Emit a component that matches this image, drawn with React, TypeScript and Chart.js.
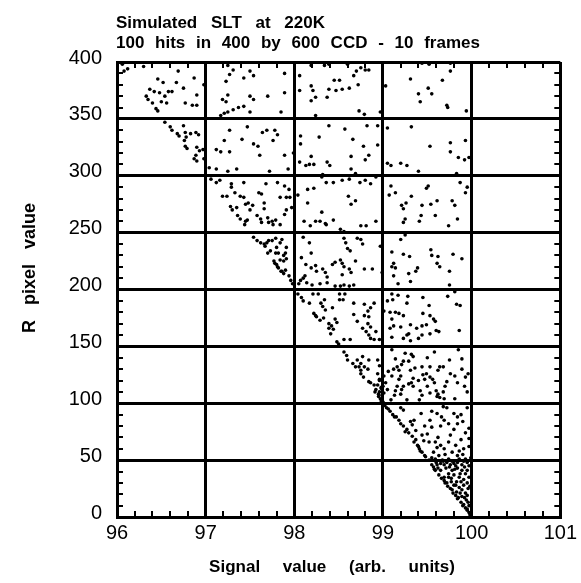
import React, { useEffect, useRef } from 'react';
import { Chart, registerables } from 'chart.js';

Chart.register(...registerables);

const TITLE_LINES = ['Simulated SLT at 220K', '100 hits in 400 by 600 CCD - 10 frames'];
const X_TITLE = 'Signal value (arb. units)';
const Y_TITLE = 'R pixel value';

const X_MIN = 96;
const X_MAX = 101;
const X_STEP = 1;
const X_MINOR = 0.2;
const Y_MIN = 0;
const Y_MAX = 400;
const Y_STEP = 50;
const Y_MINOR = 10;

// [signal value, R pixel value], band by band
const band350to400: [number, number][] = [
  [96.06, 398], [96.12, 394], [96.08, 392], [96.3, 396], [96.69, 392], [96.87, 386], [96.67, 382], [96.46, 385],
  [96.37, 376], [96.52, 382], [96.42, 374], [96.33, 370], [96.48, 373], [96.58, 374], [96.62, 374], [96.54, 370],
  [96.35, 367], [96.4, 364], [96.5, 365], [96.56, 364], [96.44, 359], [96.46, 357], [96.75, 377], [96.9, 371],
  [96.98, 380], [96.77, 364], [96.85, 362], [96.9, 362],
  [97.25, 397], [97.31, 393], [97.5, 392], [97.54, 388], [97.43, 386], [97.23, 383], [97.27, 389], [97.89, 390],
  [97.7, 370], [97.5, 370], [97.54, 367], [97.25, 371], [97.19, 367], [97.23, 365], [97.89, 373], [97.85, 356],
  [97.5, 356], [97.17, 353], [97.21, 355], [97.25, 356], [97.31, 358], [97.37, 360], [97.43, 361],
  [98.06, 388], [98.19, 379], [98.21, 375], [98.19, 366], [98.24, 369], [98.37, 369], [98.39, 376], [98.45, 384],
  [98.51, 384], [98.47, 375], [98.54, 376], [98.62, 377], [98.72, 380], [98.67, 388], [98.7, 392], [98.75, 395],
  [98.8, 393], [98.84, 393], [98.06, 375], [98.19, 397], [98.34, 397], [98.39, 398], [98.6, 398], [98.73, 357],
  [98.79, 354], [98.24, 353], [98.97, 356],
  [99.03, 379], [99.31, 385], [99.4, 372], [99.42, 365], [99.51, 377], [99.55, 372], [99.67, 384], [99.72, 362],
  [99.73, 360], [99.94, 357], [99.44, 399], [99.52, 398], [99.76, 399], [99.76, 392],
];

const band300to350: [number, number][] = [
  [96.54, 347], [96.6, 343], [96.62, 340], [96.68, 337], [96.7, 335], [96.75, 344], [96.77, 338], [96.78, 334],
  [96.76, 331], [96.77, 326], [96.79, 324], [96.83, 337], [96.89, 338], [96.92, 336], [96.9, 325], [96.93, 322],
  [96.89, 318], [96.87, 315], [96.9, 313], [96.98, 315], [96.97, 323],
  [97.27, 340], [97.47, 343], [97.64, 338], [97.69, 340], [97.78, 340], [97.81, 336], [97.76, 331], [97.21, 331],
  [97.41, 332], [97.54, 328], [97.59, 326], [97.12, 323], [97.17, 321], [97.27, 321], [97.61, 318], [97.89, 318],
  [97.99, 320], [97.04, 307], [97.12, 306], [97.25, 304], [97.35, 306], [97.72, 304], [97.93, 306],
  [98.07, 335], [98.07, 328], [98.28, 334], [98.39, 344], [98.57, 341], [98.66, 332], [98.78, 326], [98.82, 344],
  [98.94, 344], [98.94, 327], [98.64, 317], [98.84, 318], [98.8, 314], [98.19, 317], [98.22, 310], [98.13, 309],
  [98.17, 310], [98.06, 312], [98.37, 312], [98.4, 309], [98.64, 306], [98.32, 301], [98.69, 302],
  [99.05, 342], [99.32, 343], [99.53, 326], [99.76, 329], [99.76, 321], [99.93, 331], [99.85, 316], [99.92, 314],
  [99.97, 316], [99.05, 311], [99.09, 309], [99.2, 311], [99.27, 309], [99.4, 304], [99.83, 302],
];

const band250to300: [number, number][] = [
  [97.06, 297], [97.12, 294], [97.16, 296], [97.29, 293], [97.29, 290], [97.43, 294], [97.33, 285], [97.19, 282],
  [97.24, 282], [97.39, 282], [97.43, 281], [97.6, 285], [97.63, 284], [97.68, 293], [97.81, 294], [97.89, 291],
  [97.94, 288], [97.84, 281], [97.95, 281], [97.28, 273], [97.35, 272], [97.3, 270], [97.45, 275], [97.48, 276],
  [97.53, 274], [97.5, 270], [97.66, 276], [97.66, 271], [97.58, 265], [97.36, 265], [97.39, 262], [97.45, 260],
  [97.44, 257], [97.63, 259], [97.76, 257], [97.7, 263], [97.71, 259], [97.84, 257], [97.89, 266], [97.97, 272],
  [97.91, 281], [97.47, 261], [97.62, 262], [97.79, 261], [97.91, 270], [97.75, 260],
  [98.04, 283], [98.15, 288], [98.22, 289], [98.36, 294], [98.44, 294], [98.54, 296], [98.62, 297], [98.74, 294],
  [98.8, 296], [98.86, 293], [98.61, 282], [98.64, 275], [98.69, 278], [98.31, 268], [98.11, 260], [98.18, 256],
  [98.24, 260], [98.36, 257], [98.52, 253], [98.56, 251], [98.75, 256], [98.81, 256], [98.92, 260], [98.31, 299],
  [98.92, 299], [98.15, 276], [98.29, 260], [98.35, 258], [98.44, 261],
  [99.09, 291], [99.07, 283], [99.14, 285], [99.21, 274], [99.23, 271], [99.26, 276], [99.32, 282], [99.49, 289],
  [99.51, 291], [99.44, 274], [99.54, 275], [99.61, 278], [99.78, 278], [99.81, 274], [99.93, 285], [99.95, 290],
  [99.87, 294], [99.43, 265], [99.41, 260], [99.59, 265], [99.74, 256], [99.84, 262], [99.25, 262], [99.23, 259],
];

const band200to250: [number, number][] = [
  [97.54, 246], [97.58, 243], [97.62, 241], [97.66, 240], [97.69, 241], [97.71, 243], [97.67, 238], [97.75, 243],
  [97.79, 245], [97.84, 241], [97.86, 244], [97.91, 237], [97.8, 237], [97.79, 232], [97.7, 232], [97.73, 234],
  [97.82, 232], [97.88, 230], [97.9, 232], [97.84, 226], [97.88, 225], [97.91, 227], [97.77, 225], [97.78, 223],
  [97.8, 222], [97.81, 220], [97.82, 219], [97.85, 216], [97.86, 216], [97.9, 217], [97.88, 214], [97.94, 212],
  [97.96, 208], [97.98, 205],
  [98.1, 246], [98.17, 241], [98.19, 232], [98.08, 228], [98.13, 222], [98.19, 219], [98.24, 221], [98.25, 216],
  [98.32, 218], [98.35, 215], [98.37, 211], [98.43, 222], [98.46, 224], [98.1, 210], [98.07, 208], [98.12, 212],
  [98.05, 205], [98.14, 206], [98.2, 204], [98.29, 205], [98.37, 206], [98.46, 203], [98.52, 203], [98.56, 204],
  [98.62, 203], [98.67, 204], [98.56, 245], [98.58, 241], [98.6, 236], [98.63, 234], [98.71, 245], [98.75, 244],
  [98.77, 240], [98.69, 225], [98.52, 226], [98.54, 223], [98.56, 220], [98.62, 218], [98.64, 215], [98.79, 218],
  [98.88, 218], [98.54, 213], [98.97, 238], [98.99, 215],
  [99.1, 233], [99.23, 231], [99.3, 229], [99.54, 235], [99.55, 230], [99.62, 229], [99.61, 223], [99.64, 220],
  [99.39, 219], [99.37, 216], [99.29, 214], [99.14, 219], [99.1, 220], [99.12, 212], [99.75, 216], [99.79, 231],
  [99.89, 227], [99.31, 207], [99.75, 204], [99.17, 205], [99.2, 244], [99.25, 248], [99.12, 223],
];

const band150to200: [number, number][] = [
  [98.04, 196], [98.08, 193], [98.1, 190], [98.17, 188], [98.21, 196], [98.27, 196], [98.34, 191], [98.32, 185],
  [98.35, 182], [98.43, 184], [98.3, 188], [98.51, 191], [98.55, 191], [98.67, 178], [98.22, 179], [98.24, 177],
  [98.25, 176], [98.29, 173], [98.33, 175], [98.39, 170], [98.46, 174], [98.48, 171], [98.42, 168], [98.44, 165],
  [98.39, 166], [98.41, 161], [98.48, 154], [98.5, 152], [98.56, 156], [98.63, 156], [98.71, 172], [98.67, 188],
  [98.79, 187], [98.83, 181], [98.86, 184], [98.9, 188], [98.79, 177], [98.84, 176], [98.83, 170], [98.86, 167],
  [98.77, 166], [98.81, 163], [98.84, 160], [98.86, 157], [98.9, 156], [98.96, 156], [98.92, 163], [98.51, 196],
  [98.57, 196],
  [99.1, 196], [99.17, 195], [99.28, 194], [99.45, 193], [99.73, 194], [99.81, 198], [99.83, 187], [99.87, 186],
  [99.05, 190], [99.11, 191], [99.27, 188], [99.52, 186], [99.08, 180], [99.14, 180], [99.18, 179], [99.23, 177],
  [99.1, 174], [99.12, 168], [99.08, 166], [99.2, 167], [99.31, 169], [99.38, 166], [99.44, 168], [99.49, 169],
  [99.59, 172], [99.6, 164], [99.63, 163], [99.53, 177], [99.45, 179], [99.57, 174], [99.29, 161], [99.27, 160],
  [99.23, 157], [99.31, 155], [99.4, 157], [99.44, 160], [99.53, 161], [99.1, 158], [99.86, 164], [99.01, 181],
];

const band100to150: [number, number][] = [
  [98.56, 145], [98.59, 142], [98.6, 138], [98.66, 135], [98.69, 132], [98.71, 138], [98.75, 135], [98.73, 132],
  [98.79, 132], [98.83, 130], [98.84, 138], [98.77, 141], [98.75, 126], [98.78, 123], [98.75, 129], [98.94, 138],
  [98.96, 133], [98.94, 126], [98.86, 118], [98.9, 116], [98.94, 116], [98.92, 112], [98.91, 110], [98.96, 110],
  [98.95, 106], [98.98, 114], [98.96, 121], [98.84, 119], [98.97, 104], [98.98, 102], [99.0, 101], [98.99, 107],
  [98.95, 108], [99.01, 124], [99.0, 115], [99.01, 109], [99.05, 112], [99.03, 118], [98.96, 120], [98.98, 113],
  [99.25, 144], [99.32, 143], [99.34, 141], [99.14, 139], [99.23, 137], [99.29, 137], [99.16, 132], [99.21, 134],
  [99.12, 130], [99.18, 129], [99.31, 129], [99.36, 131], [99.44, 132], [99.53, 132], [99.64, 132], [99.68, 132],
  [99.62, 129], [99.49, 126], [99.53, 123], [99.56, 121], [99.58, 118], [99.47, 121], [99.4, 120], [99.32, 118],
  [99.29, 117], [99.2, 124], [99.18, 121], [99.23, 115], [99.16, 115], [99.14, 111], [99.21, 112], [99.34, 115],
  [99.42, 111], [99.44, 107], [99.53, 109], [99.6, 111], [99.62, 108], [99.68, 110], [99.7, 115], [99.72, 119],
  [99.76, 126], [99.89, 139], [99.89, 130], [99.93, 123], [99.92, 115], [99.81, 104], [99.61, 106],
  [99.06, 128], [99.1, 124], [99.34, 122], [99.45, 125], [99.81, 124], [99.84, 118], [99.96, 126], [99.64, 105],
  [99.69, 104], [99.41, 103], [99.09, 103], [99.13, 107], [99.2, 108],
  [99.5, 140], [99.75, 138], [99.58, 145], [99.85, 147], [99.1, 147], [99.95, 110], [99.27, 103], [99.5, 115],
];

const band50to100: [number, number][] = [
  [99.04, 96], [99.08, 93], [99.11, 90], [99.15, 88], [99.18, 85], [99.2, 82], [99.23, 80], [99.25, 75],
  [99.29, 74], [99.33, 71], [99.37, 68], [99.4, 62], [99.41, 60], [99.42, 58], [99.44, 57], [99.2, 96],
  [99.23, 94], [99.31, 84], [99.33, 81], [99.35, 85], [99.43, 91], [99.55, 93], [99.61, 91], [99.68, 97],
  [99.72, 96], [99.8, 91], [99.84, 88], [99.88, 90], [99.95, 96], [99.69, 85], [99.74, 82], [99.8, 77],
  [99.84, 82], [99.65, 80], [99.55, 79], [99.5, 73], [99.44, 72], [99.46, 67], [99.52, 66], [99.59, 66],
  [99.61, 61], [99.65, 63], [99.69, 60], [99.74, 66], [99.82, 63], [99.86, 58], [99.91, 60], [99.97, 62],
  [99.97, 78], [99.93, 74], [99.97, 69], [99.78, 57], [99.84, 54], [99.63, 54], [99.55, 52], [99.52, 50],
  [99.59, 51], [99.67, 50], [99.74, 51], [99.86, 51], [99.93, 51], [99.99, 52], [99.47, 54], [99.37, 76],
  [99.06, 95], [99.13, 88], [99.27, 77], [99.35, 66], [99.39, 63], [99.48, 53], [99.02, 98], [99.01, 100],
  [99.57, 57], [99.7, 55], [99.9, 55], [99.76, 72], [99.62, 70], [99.88, 68], [99.53, 85], [99.47, 80],
  [99.9, 84], [99.66, 88],
];

const band0to50: [number, number][] = [
  [99.55, 46], [99.57, 44], [99.61, 46], [99.65, 47], [99.69, 46], [99.72, 48], [99.76, 46], [99.8, 47],
  [99.84, 48], [99.89, 46], [99.95, 48], [99.59, 41], [99.65, 41], [99.71, 43], [99.78, 41], [99.84, 43],
  [99.89, 41], [99.95, 41], [99.63, 37], [99.69, 35], [99.74, 38], [99.8, 37], [99.86, 35], [99.93, 38],
  [99.97, 35], [99.69, 32], [99.72, 30], [99.77, 31], [99.82, 28], [99.88, 31], [99.95, 30], [99.76, 25],
  [99.78, 24], [99.83, 22], [99.89, 24], [99.96, 25], [99.82, 19], [99.85, 17], [99.89, 18], [99.95, 19],
  [99.88, 13], [99.91, 11], [99.96, 13], [99.93, 8], [99.95, 7], [99.97, 4], [99.99, 1], [99.58, 42],
  [99.66, 34], [99.7, 30], [99.73, 27], [99.79, 21], [99.84, 16], [99.9, 10], [99.95, 6], [99.98, 2],
  [99.75, 44], [99.82, 45], [99.92, 44], [99.87, 38], [99.77, 34], [99.91, 28], [99.86, 26], [99.93, 21],
  [99.94, 15], [99.6, 48], [99.68, 49], [99.78, 49], [99.91, 49], [99.62, 43], [99.81, 42], [99.97, 45],
  [99.74, 35], [99.91, 33], [99.83, 31], [99.98, 27], [99.87, 21], [99.92, 17], [99.97, 10], [99.8, 28],
];

const FONT = '"Liberation Sans", Arial, Helvetica, sans-serif';

const minorTicksPlugin = {
  id: 'minorTicks',
  afterDatasetsDraw(chart: any) {
    const { ctx, chartArea, scales } = chart;
    const { left, right, top, bottom } = chartArea;
    const len = 6;
    ctx.save();
    ctx.strokeStyle = '#000';
    ctx.lineWidth = 2;
    ctx.beginPath();
    const nx = Math.round((X_MAX - X_MIN) / X_MINOR);
    for (let i = 1; i < nx; i++) {
      if (i % Math.round(X_STEP / X_MINOR) === 0) continue;
      const px = Math.round(scales.x.getPixelForValue(X_MIN + i * X_MINOR));
      ctx.moveTo(px, bottom);
      ctx.lineTo(px, bottom - len);
      ctx.moveTo(px, top);
      ctx.lineTo(px, top + len);
    }
    const ny = Math.round((Y_MAX - Y_MIN) / Y_MINOR);
    for (let i = 1; i < ny; i++) {
      if (i % Math.round(Y_STEP / Y_MINOR) === 0) continue;
      const py = Math.round(scales.y.getPixelForValue(Y_MIN + i * Y_MINOR));
      ctx.moveTo(left, py);
      ctx.lineTo(left + len, py);
      ctx.moveTo(right, py);
      ctx.lineTo(right - len, py);
    }
    ctx.stroke();
    ctx.restore();
  },
};

const titlesPlugin = {
  id: 'titles',
  afterDraw(chart: any) {
    const ctx = chart.ctx as any;
    ctx.save();
    ctx.fillStyle = '#000';
    ctx.font = `bold 17px ${FONT}`;
    ctx.textBaseline = 'alphabetic';
    ctx.textAlign = 'left';
    ctx.wordSpacing = '9px';
    ctx.fillText(TITLE_LINES[0], 116, 28);
    ctx.wordSpacing = '6px';
    ctx.fillText(TITLE_LINES[1], 116, 48);
    ctx.textAlign = 'center';
    ctx.wordSpacing = '18px';
    ctx.fillText(X_TITLE, 332, 572);
    ctx.font = `bold 18px ${FONT}`;
    ctx.translate(35, 268);
    ctx.rotate(-Math.PI / 2);
    ctx.wordSpacing = '10px';
    ctx.fillText(Y_TITLE, 0, 0);
    ctx.wordSpacing = '0px';
    ctx.restore();
  },
};

export default function App() {
  const canvasRef = useRef<HTMLCanvasElement>(null);

  useEffect(() => {
    const canvas = canvasRef.current;
    if (!canvas) return;
    const hits = [
      ...band350to400, ...band300to350, ...band250to300, ...band200to250,
      ...band150to200, ...band100to150, ...band50to100, ...band0to50,
    ].map(([x, y]) => ({ x, y }));

    const chart = new Chart(canvas, {
      type: 'scatter',
      data: {
        datasets: [
          {
            data: hits,
            pointRadius: 1.8,
            pointHoverRadius: 1.8,
            pointBackgroundColor: '#000',
            pointBorderWidth: 0,
          },
        ],
      },
      options: {
        responsive: false,
        animation: false,
        devicePixelRatio: 1,
        events: [],
        layout: { padding: { left: 0, top: 62, right: 17, bottom: 0 } },
        plugins: {
          legend: { display: false },
          tooltip: { enabled: false },
          title: { display: false },
        },
        scales: {
          x: {
            type: 'linear',
            min: X_MIN,
            max: X_MAX,
            afterFit: (s: any) => { s.height = 66; },
            ticks: {
              stepSize: X_STEP,
              color: '#000',
              font: { family: FONT, size: 20 },
              padding: 4,
              maxRotation: 0,
              autoSkip: false,
            },
            grid: { color: '#000', lineWidth: 3, drawTicks: false },
            border: { color: '#000', width: 3 },
          },
          y: {
            type: 'linear',
            min: Y_MIN,
            max: Y_MAX,
            afterFit: (s: any) => { s.width = 117; },
            ticks: {
              stepSize: Y_STEP,
              color: '#000',
              font: { family: FONT, size: 20 },
              padding: 15,
              labelOffset: -4,
              autoSkip: false,
            },
            grid: { color: '#000', lineWidth: 3, drawTicks: false },
            border: { color: '#000', width: 3 },
          },
        },
      } as any,
      plugins: [minorTicksPlugin, titlesPlugin],
    });

    return () => chart.destroy();
  }, []);

  return (
    <div style={{ position: 'absolute', left: 0, top: 0, width: 581, height: 583, background: '#fff' }}>
      <canvas ref={canvasRef} width={581} height={583} style={{ display: 'block' }} />
    </div>
  );
}
